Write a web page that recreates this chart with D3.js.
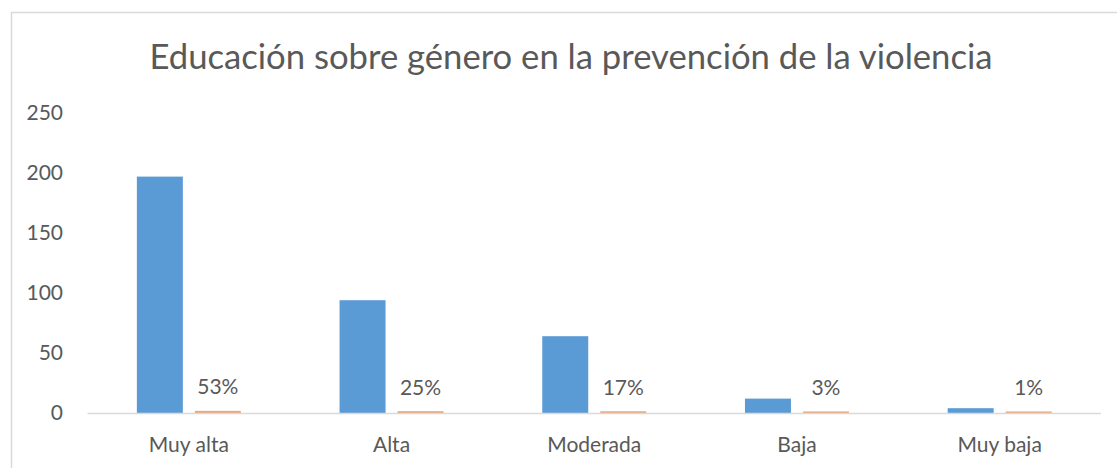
<!DOCTYPE html>
<html lang="es">
<head>
    <meta charset="UTF-8">
    <title>Educación sobre género en la prevención de la violencia</title>
    <script src="https://d3js.org/d3.v7.min.js"></script>
    <style>
        body { margin: 0; background: #fff; }
        svg { display: block; font-family: Lato, "Open Sans", sans-serif; }
        .tick-label, .cat-label, .data-label { fill: #595959; font-size: 21px; }
        .title { fill: #595959; font-size: 35px; }
    </style>
</head>
<body>
    <svg id="chart" width="1117" height="468"></svg>

    <script>
        // Chart data
        const categories = ["Muy alta", "Alta", "Moderada", "Baja", "Muy baja"];
        const counts = [197, 94, 64, 12, 4];
        const shares = [0.53, 0.25, 0.17, 0.03, 0.01];
        const shareLabels = ["53%", "25%", "17%", "3%", "1%"];
        const yTicks = [0, 50, 100, 150, 200, 250];

        const svg = d3.select("#chart");

        // Outer chart border (right and bottom run off the picture)
        svg.append("rect")
            .attr("x", 11.5).attr("y", 12.5)
            .attr("width", 1110).attr("height", 470)
            .attr("fill", "none")
            .attr("stroke", "#d9d9d9")
            .attr("stroke-width", 1.5);

        // Title
        svg.append("text")
            .attr("class", "title")
            .attr("x", 571).attr("y", 69)
            .attr("text-anchor", "middle")
            .attr("textLength", 843)
            .attr("lengthAdjust", "spacingAndGlyphs")
            .text("Educación sobre género en la prevención de la violencia");

        const plot = { left: 87.5, right: 1101, top: 113, bottom: 413 };

        const y = d3.scaleLinear().domain([0, 250]).range([plot.bottom, plot.top]);

        const x0 = d3.scaleBand()
            .domain(categories)
            .range([plot.left, plot.right])
            .paddingInner(0.487)
            .paddingOuter(0.2435);

        const x1 = d3.scaleBand()
            .domain(["count", "share"])
            .range([0, x0.bandwidth()])
            .paddingInner(0.207);

        // Y tick labels (no axis line, no gridlines)
        svg.append("g")
            .selectAll("text")
            .data(yTicks)
            .join("text")
            .attr("class", "tick-label")
            .attr("x", 63)
            .attr("y", d => y(d))
            .attr("dy", "0.35em")
            .attr("text-anchor", "end")
            .text(d => d);

        // Blue bars: counts
        svg.append("g")
            .selectAll("rect")
            .data(categories)
            .join("rect")
            .attr("x", (d, i) => x0(d) + x1("count"))
            .attr("y", (d, i) => y(counts[i]))
            .attr("width", x1.bandwidth())
            .attr("height", (d, i) => y(0) - y(counts[i]))
            .attr("fill", "#5b9bd5");

        // Orange bars: shares (tiny, drawn on the same axis)
        svg.append("g")
            .selectAll("rect")
            .data(categories)
            .join("rect")
            .attr("x", (d, i) => x0(d) + x1("share"))
            .attr("y", (d, i) => y(shares[i]) - 1.5)
            .attr("width", x1.bandwidth())
            .attr("height", (d, i) => y(0) - y(shares[i]) + 1.5)
            .attr("fill", "#eda57a");

        // Percentage labels above orange bars
        svg.append("g")
            .selectAll("text")
            .data(categories)
            .join("text")
            .attr("class", "data-label")
            .attr("x", d => x0(d) + x1("share") + x1.bandwidth() / 2)
            .attr("y", (d, i) => y(shares[i]) - 18)
            .attr("text-anchor", "middle")
            .text((d, i) => shareLabels[i]);

        // Baseline
        svg.append("line")
            .attr("x1", plot.left).attr("x2", plot.right)
            .attr("y1", y(0) + 0.5).attr("y2", y(0) + 0.5)
            .attr("stroke", "#d9d9d9")
            .attr("stroke-width", 1.5);

        // Category labels
        svg.append("g")
            .selectAll("text")
            .data(categories)
            .join("text")
            .attr("class", "cat-label")
            .attr("x", d => x0(d) + x0.bandwidth() / 2)
            .attr("y", 452)
            .attr("text-anchor", "middle")
            .text(d => d);
    </script>
</body>
</html>
